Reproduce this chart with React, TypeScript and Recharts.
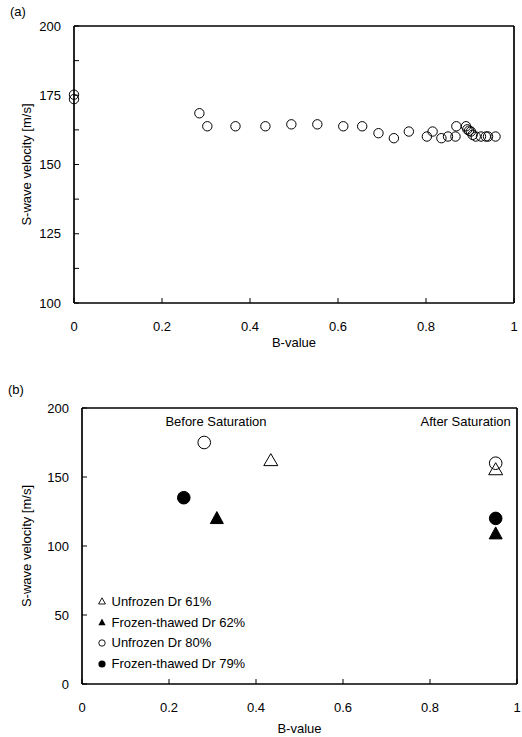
import React from 'react';
import { ScatterChart, Scatter, XAxis, YAxis, ReferenceLine } from 'recharts';

const FONT = 'Arial, "Liberation Sans", Helvetica, sans-serif';

// ---- Panel (a) data ----
const topBValues = [0, 0, 0.285, 0.303, 0.367, 0.435, 0.494, 0.553, 0.612, 0.655, 0.692, 0.727, 0.761, 0.802, 0.815, 0.835, 0.85, 0.867, 0.869, 0.891, 0.894, 0.898, 0.902, 0.906, 0.913, 0.925, 0.936, 0.941, 0.958];
const topVelocities = [175.2, 173.6, 168.5, 163.8, 163.8, 163.8, 164.5, 164.5, 163.8, 163.8, 161.3, 159.5, 161.9, 160.1, 161.9, 159.5, 160.1, 160.1, 163.8, 163.8, 162.7, 162.2, 161.9, 160.7, 160.1, 160.1, 160.1, 160.1, 160.1];

// ---- Panel (b) data ----
const seriesNames = ['Unfrozen Dr 61%', 'Frozen-thawed Dr 62%', 'Unfrozen Dr 80%', 'Frozen-thawed Dr 79%'];
const unfrozen61B = [0.434, 0.951];
const unfrozen61V = [162.6, 156];
const frozen62B = [0.31, 0.951];
const frozen62V = [120.6, 109.5];
const unfrozen80B = [0.281, 0.951];
const unfrozen80V = [175, 160];
const frozen79B = [0.234, 0.951];
const frozen79V = [135, 120];

const annotationTexts = ['Before Saturation', 'After Saturation'];
const annotationB = [0.308, 0.882];
const annotationV = [190.3, 190.3];

// ---- Ticks ----
const xTicks = [0, 0.2, 0.4, 0.6, 0.8, 1];
const topYTicks = [100, 112.5, 125, 137.5, 150, 162.5, 175, 187.5, 200];
const bottomYTicks = [0, 50, 100, 150, 200];

const zip = (xs: number[], ys: number[]) => xs.map((b, i) => ({ b, v: ys[i] }));

const topData = zip(topBValues, topVelocities);
const u61 = zip(unfrozen61B, unfrozen61V);
const f62 = zip(frozen62B, frozen62V);
const u80 = zip(unfrozen80B, unfrozen80V);
const f79 = zip(frozen79B, frozen79V);
const annotations = annotationTexts.map((t, i) => ({ b: annotationB[i], v: annotationV[i], t }));

const AX = { stroke: 'black', strokeWidth: 1.7 };

const smallOpenCircle = (p: any) => <circle cx={p.cx} cy={p.cy} r={4.7} fill="none" stroke="black" strokeWidth={1} />;
const openCircle = (p: any) => <circle cx={p.cx} cy={p.cy} r={6.3} fill="none" stroke="black" strokeWidth={1} />;
const filledCircle = (p: any) => <circle cx={p.cx} cy={p.cy} r={6.3} fill="black" stroke="black" strokeWidth={1} />;
const openTriangle = (p: any) => (
  <path d={`M${p.cx},${p.cy - 6} L${p.cx + 7},${p.cy + 6} L${p.cx - 7},${p.cy + 6} Z`} fill="none" stroke="black" strokeWidth={1} />
);
const filledTriangle = (p: any) => (
  <path d={`M${p.cx},${p.cy - 6} L${p.cx + 6.5},${p.cy + 6} L${p.cx - 6.5},${p.cy + 6} Z`} fill="black" stroke="black" strokeWidth={1} />
);
const annotationText = (p: any) => (
  <text x={p.cx} y={p.cy + 4.6} textAnchor="middle" fontSize={13} fontFamily={FONT} fill="black">
    {p.payload.t}
  </text>
);

const renderYTick = (props: any, labelEvery: number) => {
  const { x, y, payload } = props;
  const q = payload.value / labelEvery;
  const show = Math.abs(q - Math.round(q)) < 1e-6;
  return (
    <g>
      <path d={`M${x},${y} L${x + 5},${y}`} stroke="black" strokeWidth={1} fill="none" />
      {show && (
        <text x={x - 13} y={y + 4.6} textAnchor="end" fontSize={13} fontFamily={FONT} fill="black">
          {payload.value}
        </text>
      )}
    </g>
  );
};
const YTickTop = (props: any) => renderYTick(props, 25);
const YTickBottom = (props: any) => renderYTick(props, 50);

const XTick = (props: any) => {
  const { x, y, payload } = props;
  return (
    <g>
      <path d={`M${x},${y} L${x},${y - 5}`} stroke="black" strokeWidth={1} fill="none" />
      <text x={x} y={y + 28.2} textAnchor="middle" fontSize={13} fontFamily={FONT} fill="black">
        {String(payload.value)}
      </text>
    </g>
  );
};

const xTitleTop = (props: any) => {
  const vb = props.viewBox;
  return (
    <text x={vb.x + vb.width / 2} y={vb.y + 44.3} textAnchor="middle" fontSize={13} fontFamily={FONT} fill="black">
      B-value
    </text>
  );
};
const xTitleBottom = (props: any) => {
  const vb = props.viewBox;
  return (
    <text x={vb.x + vb.width / 2} y={vb.y + 49.3} textAnchor="middle" fontSize={13} fontFamily={FONT} fill="black">
      B-value
    </text>
  );
};

const xLabelTop = { content: xTitleTop };
const xLabelBottom = { content: xTitleBottom };
const yLabel = {
  value: 'S-wave velocity [m/s]',
  angle: -90,
  position: 'insideLeft',
  offset: 26,
  fontSize: 13,
  fontFamily: FONT,
  fill: 'black',
  style: { textAnchor: 'middle' },
};

const legendMarkers = ['openTri', 'filledTri', 'openCircle', 'filledCircle'];

export default function App() {
  return (
    <div style={{ position: 'absolute', left: 0, top: 0 }}>
      <div style={{ position: 'absolute', left: 0, top: 0 }}>
        <ScatterChart width={522} height={370} margin={{ top: 26, right: 8, left: 0, bottom: 17 }}>
          <XAxis
            type="number"
            dataKey="b"
            domain={[0, 1]}
            ticks={xTicks}
            height={50}
            tickSize={0}
            tickMargin={0}
            tickLine={false}
            axisLine={AX}
            tick={XTick}
            interval={0}
            label={xLabelTop}
          />
          <YAxis
            type="number"
            dataKey="v"
            domain={[100, 200]}
            ticks={topYTicks}
            width={74}
            tickSize={0}
            tickMargin={0}
            tickLine={false}
            axisLine={AX}
            tick={YTickTop}
            interval={0}
            label={yLabel}
          />
          <ReferenceLine x={1} stroke="black" strokeWidth={1.7} />
          <ReferenceLine y={200} stroke="black" strokeWidth={1.7} />
          <Scatter data={topData} isAnimationActive={false} shape={smallOpenCircle} />
        </ScatterChart>
      </div>

      <div style={{ position: 'absolute', left: 0, top: 370 }}>
        <ScatterChart width={522} height={366} margin={{ top: 38, right: 5, left: 0, bottom: 0 }}>
          <XAxis
            type="number"
            dataKey="b"
            domain={[0, 1]}
            ticks={xTicks}
            height={52}
            tickSize={0}
            tickMargin={0}
            tickLine={false}
            axisLine={AX}
            tick={XTick}
            interval={0}
            label={xLabelBottom}
          />
          <YAxis
            type="number"
            dataKey="v"
            domain={[0, 200]}
            ticks={bottomYTicks}
            width={82}
            tickSize={0}
            tickMargin={0}
            tickLine={false}
            axisLine={AX}
            tick={YTickBottom}
            interval={0}
            label={yLabel}
          />
          <ReferenceLine x={1} stroke="black" strokeWidth={1.7} />
          <ReferenceLine y={200} stroke="black" strokeWidth={1.7} />
          <Scatter data={annotations} isAnimationActive={false} shape={annotationText} />
          <Scatter name={seriesNames[0]} data={u61} isAnimationActive={false} shape={openTriangle} />
          <Scatter name={seriesNames[1]} data={f62} isAnimationActive={false} shape={filledTriangle} />
          <Scatter name={seriesNames[2]} data={u80} isAnimationActive={false} shape={openCircle} />
          <Scatter name={seriesNames[3]} data={f79} isAnimationActive={false} shape={filledCircle} />
        </ScatterChart>
      </div>

      <div style={{ position: 'absolute', left: 10, top: 4, fontSize: 13, fontFamily: FONT, whiteSpace: 'nowrap' }}>(a)</div>
      <div style={{ position: 'absolute', left: 8, top: 382, fontSize: 13, fontFamily: FONT, whiteSpace: 'nowrap' }}>(b)</div>

      <div style={{ position: 'absolute', left: 97, top: 591, fontFamily: FONT, fontSize: 13, color: 'black' }}>
        {seriesNames.map((name, i) => {
          const m = legendMarkers[i];
          return (
            <div key={name} style={{ display: 'flex', alignItems: 'center', height: 20.8, whiteSpace: 'nowrap' }}>
              <svg width={10} height={10} style={{ marginRight: 4.5, flex: 'none' }}>
                {m === 'openTri' && <path d="M5,1.8 L8.4,8 L1.6,8 Z" fill="none" stroke="black" strokeWidth={0.9} />}
                {m === 'filledTri' && <path d="M5,1.5 L8.6,8.2 L1.4,8.2 Z" fill="black" />}
                {m === 'openCircle' && <circle cx={5} cy={5} r={3.2} fill="none" stroke="black" strokeWidth={0.9} />}
                {m === 'filledCircle' && <circle cx={5} cy={5} r={3.6} fill="black" />}
              </svg>
              <span>{name}</span>
            </div>
          );
        })}
      </div>
    </div>
  );
}
